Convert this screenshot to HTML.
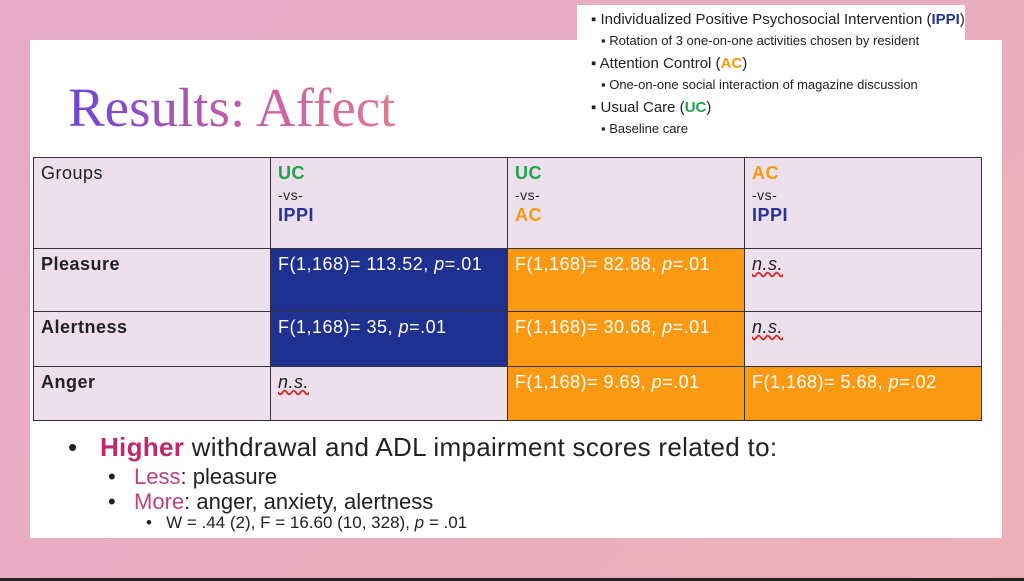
<!DOCTYPE html>
<html><head><style>
body{margin:0;width:1024px;height:581px;overflow:hidden;position:relative;background:linear-gradient(135deg,#e6a9c6 0%,#eaaec0 60%,#eeb0b8 100%);font-family:"Liberation Sans",sans-serif}
.slide{position:absolute;left:30px;top:40px;width:972px;height:498px;background:#fff}
.box{position:absolute;left:577px;top:5px;width:388px;height:135px;background:#fff}
.box div{position:absolute;white-space:nowrap;color:#222}
.title{position:absolute;left:68px;top:76px;font-family:"Liberation Serif",serif;font-size:55px;background:linear-gradient(90deg,#6a45d8,#c45aa8 50%,#e07a90);-webkit-background-clip:text;color:transparent;line-height:64px}
table{position:absolute;left:33px;top:157px;border-collapse:collapse;font-size:18px;letter-spacing:0.5px}
td{border:1px solid #333;vertical-align:top;padding:5px 7px;width:222px;background:#ede0ec;color:#222}
.b{background:#1f3190;color:#fff}.o{background:#fb9a12;color:#fff}
.g{color:#1aa64a;font-weight:bold}.y{color:#f59a10;font-weight:bold}.p{color:#24329a;font-weight:bold}
.ns{text-decoration:underline wavy #d22;font-style:italic}
.bl{position:absolute;white-space:nowrap;color:#222}
.black{position:absolute;left:0;top:578px;width:1024px;height:3px;background:#222}
</style></head><body>
<div class="slide"></div>
<div class="box">
<div style="left:14px;top:6px;font-size:15px">▪ Individualized Positive Psychosocial Intervention (<b style="color:#24329a">IPPI</b>)</div>
<div style="left:24px;top:28px;font-size:13px">▪ Rotation of 3 one-on-one activities chosen by resident</div>
<div style="left:14px;top:50px;font-size:15px">▪ Attention Control (<b style="color:#f59a10">AC</b>)</div>
<div style="left:24px;top:72px;font-size:13px">▪ One-on-one social interaction of magazine discussion</div>
<div style="left:14px;top:94px;font-size:15px">▪ Usual Care (<b style="color:#1aa64a">UC</b>)</div>
<div style="left:24px;top:116px;font-size:13px">▪ Baseline care</div>
</div>
<div class="title">Results: Affect</div>
<table>
<tr style="height:91px"><td>Groups</td><td><span class="g">UC</span><br><span style="font-size:14px">-vs-</span><br><span class="p">IPPI</span></td><td><span class="g">UC</span><br><span style="font-size:14px">-vs-</span><br><span class="y">AC</span></td><td><span class="y">AC</span><br><span style="font-size:14px">-vs-</span><br><span class="p">IPPI</span></td></tr>
<tr style="height:63px"><td><b>Pleasure</b></td><td class="b">F(1,168)= 113.52, <i>p</i>=.01</td><td class="o">F(1,168)= 82.88, <i>p</i>=.01</td><td><span class="ns">n.s.</span></td></tr>
<tr style="height:55px"><td><b>Alertness</b></td><td class="b">F(1,168)= 35, <i>p</i>=.01</td><td class="o">F(1,168)= 30.68, <i>p</i>=.01</td><td><span class="ns">n.s.</span></td></tr>
<tr style="height:54px"><td><b>Anger</b></td><td><span class="ns">n.s.</span></td><td class="o">F(1,168)= 9.69, <i>p</i>=.01</td><td class="o">F(1,168)= 5.68, <i>p</i>=.02</td></tr>
</table>
<div class="bl" style="left:68px;top:432px;font-size:26px;letter-spacing:0.3px">•&nbsp;&nbsp; <b style="color:#c0286e">Higher</b> withdrawal and ADL impairment scores related to:</div>
<div class="bl" style="left:108px;top:464px;font-size:22px">•&nbsp;&nbsp; <span style="color:#c0407e">Less</span>: pleasure</div>
<div class="bl" style="left:108px;top:489px;font-size:22px">•&nbsp;&nbsp; <span style="color:#c0407e">More</span>: anger, anxiety, alertness</div>
<div class="bl" style="left:146px;top:513px;font-size:17px">•&nbsp;&nbsp; W = .44 (2), F = 16.60 (10, 328), <i>p</i> = .01</div>
<div class="black"></div>
</body></html>
